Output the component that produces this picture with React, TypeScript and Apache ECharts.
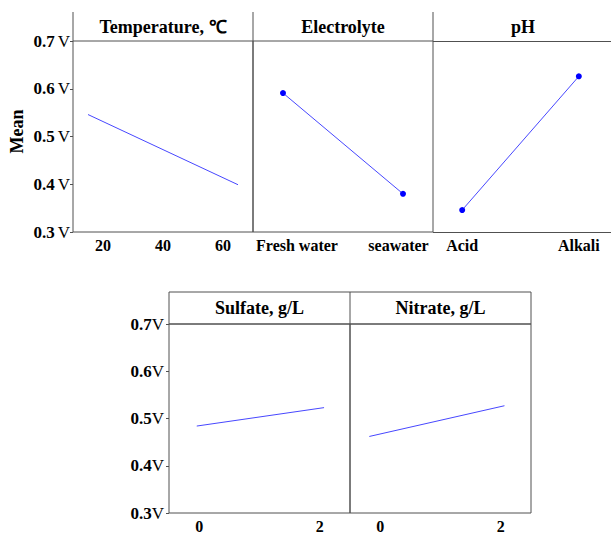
import React, { useEffect, useRef } from "react";
import * as echarts from "echarts";

// ---- data ----
const tempX = [15, 65];
const tempMean = [0.546, 0.399];
const tempTicks = [20, 40, 60];

const electrolyteLevels = ["Fresh water", "seawater"];
const electrolyteMean = [0.591, 0.38];

const phLevels = ["Acid", "Alkali"];
const phMean = [0.346, 0.626];

const sulfateX = [-0.04, 2.07];
const sulfateMean = [0.484, 0.523];

const nitrateX = [-0.18, 2.06];
const nitrateMean = [0.462, 0.527];

const concTicks = [0, 2];

const topTitles = ["Temperature, ℃", "Electrolyte", "pH"];
const bottomTitles = ["Sulfate, g/L", "Nitrate, g/L"];
const yAxisTitle = "Mean";
const yUnit = "V";

const FONT = '"Liberation Serif", "Times New Roman", serif';
const FRAME = "#505050";
const LINE = "#4747ff";
const DOT = "#0000ff";

const near = (a: number, b: number) => Math.abs(a - b) < 1e-6;

export default function App() {
  const ref = useRef<HTMLDivElement>(null);

  useEffect(() => {
    if (!ref.current) return;
    const chart = echarts.init(ref.current, null, { renderer: "svg" });

    const gridBase = {
      show: true,
      borderColor: FRAME,
      borderWidth: 1,
      backgroundColor: "transparent",
    };
    const topGrids = [73, 253, 433].map((left, i) => ({
      ...gridBase,
      show: i < 2,
      left,
      top: 41,
      width: 180,
      height: 191,
    }));
    const bottomGrids = [169, 350].map((left) => ({
      ...gridBase,
      left,
      top: 324,
      width: 181,
      height: 193,
    }));

    const labelBase = {
      fontFamily: FONT,
      fontSize: 16,
      fontWeight: "bold" as const,
      color: "#000",
    };

    const yAxis = (gridIndex: number, showLabels: boolean, gap: number, margin = 3) => ({
      type: "value" as const,
      gridIndex,
      min: 0.3,
      max: 0.7,
      interval: 0.1,
      axisLine: { show: false, onZero: false },
      axisTick: { show: showLabels, length: 3, lineStyle: { color: FRAME } },
      splitLine: { show: false },
      axisLabel: {
        show: showLabels,
        margin,
        formatter: (v: number) => `{b|${v.toFixed(1)}}{u|${yUnit}}`,
        rich: {
          b: { ...labelBase, fontSize: 17 },
          u: { fontFamily: FONT, fontSize: 17, color: "#000", padding: [0, 0, 0, gap] },
        },
      },
    });

    const numXAxis = (gridIndex: number, min: number, max: number, interval: number, ticks: number[]) => ({
      type: "value" as const,
      gridIndex,
      min,
      max,
      interval,
      axisLine: { show: false, onZero: false },
      axisTick: { show: false },
      splitLine: { show: false },
      axisLabel: {
        ...labelBase,
        margin: 5,
        formatter: (v: number) => {
          const t = ticks.find((k) => near(k, v));
          return t === undefined ? "" : String(t);
        },
      },
    });

    const catXAxis = (gridIndex: number, levels: string[], padL: number[], padR: number[]) => ({
      type: "value" as const,
      gridIndex,
      min: -0.25,
      max: 1.25,
      interval: 0.25,
      axisLine: { show: false, onZero: false },
      axisTick: { show: false },
      splitLine: { show: false },
      axisLabel: {
        ...labelBase,
        margin: 5,
        formatter: (v: number) => {
          const i = levels.findIndex((_, k) => near(k, v));
          return i < 0 ? "" : `{l${i}|${levels[i]}}`;
        },
        rich: Object.fromEntries(
          levels.map((_, i) => [`l${i}`, { ...labelBase, padding: [0, padR[i], 0, padL[i]] }])
        ),
      },
    });

    const lineSeries = (idx: number, xs: number[], ys: number[], dots: boolean) => ({
      type: "line" as const,
      xAxisIndex: idx,
      yAxisIndex: idx,
      data: xs.map((x, i) => [x, ys[i]]),
      symbol: dots ? "circle" : "none",
      symbolSize: 6,
      showSymbol: dots,
      itemStyle: { color: DOT },
      lineStyle: { color: LINE, width: 1 },
      silent: true,
    });

    const titleText = (text: string, x: number, y: number, rotation = 0) => ({
      type: "text" as const,
      x,
      y,
      rotation,
      style: {
        text,
        fontFamily: FONT,
        fontSize: 18,
        fontWeight: "bold",
        fill: "#000",
        textAlign: "center",
        textVerticalAlign: "middle",
      },
    });

    const seg = (x1: number, y1: number, x2: number, y2: number) => ({
      type: "line" as const,
      shape: { x1, y1, x2, y2 },
      style: { stroke: FRAME, lineWidth: 1 },
    });

    const option = {
      animation: false,
      grid: [...topGrids, ...bottomGrids],
      xAxis: [
        numXAxis(0, 10, 70, 10, tempTicks),
        catXAxis(1, electrolyteLevels, [28, 0], [0, 9]),
        catXAxis(2, phLevels, [0, 0], [0, 0]),
        numXAxis(3, -0.5, 2.5, 0.5, concTicks),
        numXAxis(4, -0.5, 2.5, 0.5, concTicks),
      ],
      yAxis: [
        yAxis(0, true, 3),
        yAxis(1, false, 0),
        yAxis(2, false, 0),
        yAxis(3, true, 0, 5),
        yAxis(4, false, 0),
      ],
      series: [
        lineSeries(0, tempX, tempMean, false),
        lineSeries(1, electrolyteLevels.map((_, i) => i), electrolyteMean, true),
        lineSeries(2, phLevels.map((_, i) => i), phMean, true),
        lineSeries(3, sulfateX, sulfateMean, false),
        lineSeries(4, nitrateX, nitrateMean, false),
      ],
      graphic: [
        seg(73, 12, 73, 41),
        seg(253, 12, 253, 41),
        seg(433, 12, 433, 41),
        seg(433, 41.5, 611, 41.5),
        seg(433, 232.5, 611, 232.5),
        {
          type: "rect" as const,
          shape: { x: 169, y: 292, width: 362, height: 32 },
          style: { fill: "none", stroke: FRAME, lineWidth: 1 },
        },
        seg(350, 292, 350, 324),
        ...topTitles.map((t, i) => titleText(t, 163 + i * 180, 27)),
        ...bottomTitles.map((t, i) => titleText(t, 259.5 + i * 181, 308)),
        titleText(yAxisTitle, 16.5, 131.5, Math.PI / 2),
      ],
    };

    chart.setOption(option as any);
    return () => chart.dispose();
  }, []);

  return (
    <div
      ref={ref}
      style={{ position: "absolute", left: 0, top: 0, width: 611, height: 534, background: "#fff" }}
    />
  );
}
